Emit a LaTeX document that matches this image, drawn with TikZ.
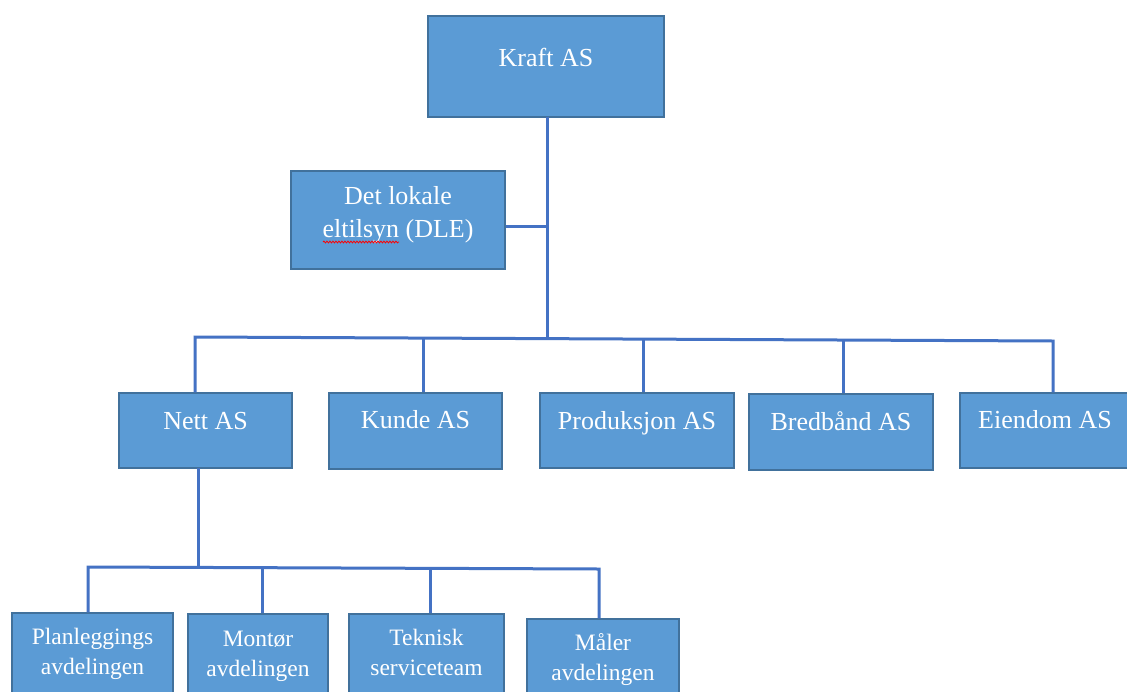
\documentclass[tikz,border=0pt]{standalone}
\usepackage{fontspec}
\setmainfont{Liberation Serif}
\usetikzlibrary{decorations.pathmorphing}
\definecolor{boxfill}{HTML}{5B9BD5}
\definecolor{boxline}{HTML}{41719C}
\definecolor{conn}{HTML}{4472C4}
\begin{document}
\begin{tikzpicture}[x=1pt,y=-1pt,
  box/.style={draw=boxline, line width=1.4pt, fill=boxfill, rectangle, inner sep=0pt},
  txt/.style={text=white, font=\fontsize{26}{31}\selectfont, align=center, inner sep=0pt},
  stxt/.style={text=white, font=\fontsize{23.5}{30}\selectfont, align=center, inner sep=0pt},
  link/.style={draw=conn, line width=3pt}]
\useasboundingbox (0,0) rectangle (1127,691);
\clip (0,0) rectangle (1127,691);
\fill[white] (0,0) rectangle (1127,691);
% boxes
\node[box, minimum width=236pt, minimum height=101pt] (kraft) at (546,66.5) {};
\node[box, minimum width=214pt, minimum height=98pt] (dle) at (398,220) {};
\node[box, minimum width=173pt, minimum height=75pt] (nett) at (205.5,430.5) {};
\node[box, minimum width=173pt, minimum height=76pt] (kunde) at (415.5,431) {};
\node[box, minimum width=194pt, minimum height=75pt] (prod) at (637,430.5) {};
\node[box, minimum width=184pt, minimum height=76pt] (bred) at (841,432) {};
\node[box, minimum width=170pt, minimum height=75pt] (eien) at (1045,430.5) {};
\node[box, minimum width=161pt, minimum height=110pt] (plan) at (92.5,668) {};
\node[box, minimum width=140pt, minimum height=110pt] (mont) at (258,669) {};
\node[box, minimum width=155pt, minimum height=110pt] (tekn) at (426.5,669) {};
\node[box, minimum width=152pt, minimum height=110pt] (maal) at (603,674) {};
% texts
\node[txt, anchor=base] (tkraft) at ([yshift=-51pt]kraft.north) {Kraft AS};
\node[txt, anchor=base] (tdle1) at ([yshift=-34pt]dle.north) {Det lokale};
\node[txt, anchor=base] (tdle2) at ([yshift=-67pt]dle.north) {eltilsyn (DLE)};
\node[txt, anchor=base] (tnett) at ([yshift=-37pt]nett.north) {Nett AS};
\node[txt, anchor=base] (tkunde) at ([yshift=-36pt]kunde.north) {Kunde AS};
\node[txt, anchor=base] (tprod) at ([yshift=-37pt]prod.north) {Produksjon AS};
\node[txt, anchor=base] (tbred) at ([yshift=-37pt]bred.north) {Bredbånd AS};
\node[txt, anchor=base] (teien) at ([yshift=-36pt]eien.north) {Eiendom AS};
\node[stxt, anchor=base] (tplan1) at ([yshift=-32pt]plan.north) {Planleggings};
\node[stxt, anchor=base] (tplan2) at ([yshift=-62pt]plan.north) {avdelingen};
\node[stxt, anchor=base] (tmont1) at ([yshift=-33pt]mont.north) {Montør};
\node[stxt, anchor=base] (tmont2) at ([yshift=-63pt]mont.north) {avdelingen};
\node[stxt, anchor=base] (ttekn1) at ([yshift=-32pt]tekn.north) {Teknisk};
\node[stxt, anchor=base] (ttekn2) at ([yshift=-62pt]tekn.north) {serviceteam};
\node[stxt, anchor=base] (tmaal1) at ([yshift=-32pt]maal.north) {Måler};
\node[stxt, anchor=base] (tmaal2) at ([yshift=-62pt]maal.north) {avdelingen};
% spell-check underline
\coordinate (w1) at (323,242);
\coordinate (w2) at (399,242);
\draw[red, line width=0.8pt, decorate, decoration={snake, amplitude=0.9pt, segment length=3pt}] (w1) -- (w2);
% connectors
\coordinate (top) at (547,117);
\coordinate (bus) at (547,338);
\coordinate (bL) at (195,337);
\coordinate (bR) at (1053,341);
\draw[link] (top) -- (bus);
\draw[link] ([yshift=-6pt]dle.east) -- ([yshift=-6pt]dle.east -| top);
\draw[link] (bL |- nett.north) -- (bL) -- (bR) -- (bR |- eien.north);
\coordinate (k1) at (423,338);
\coordinate (k2) at (643,339);
\coordinate (k3) at (843,340);
\draw[link] (k1) -- (k1 |- kunde.north);
\draw[link] (k2) -- (k2 |- prod.north);
\draw[link] (k3) -- (k3 |- bred.north);
% Nett sub-tree
\coordinate (n0) at (198,468);
\coordinate (n1) at (198,567);
\coordinate (sL) at (88,567);
\coordinate (sR) at (599,569);
\draw[link] (n0) -- (n1);
\draw[link] (sL |- plan.north) -- (sL) -- (sR) -- (sR |- maal.north);
\coordinate (m1) at (262,568);
\coordinate (m2) at (430,568);
\draw[link] (m1) -- (m1 |- mont.north);
\draw[link] (m2) -- (m2 |- tekn.north);
\end{tikzpicture}
\end{document}
